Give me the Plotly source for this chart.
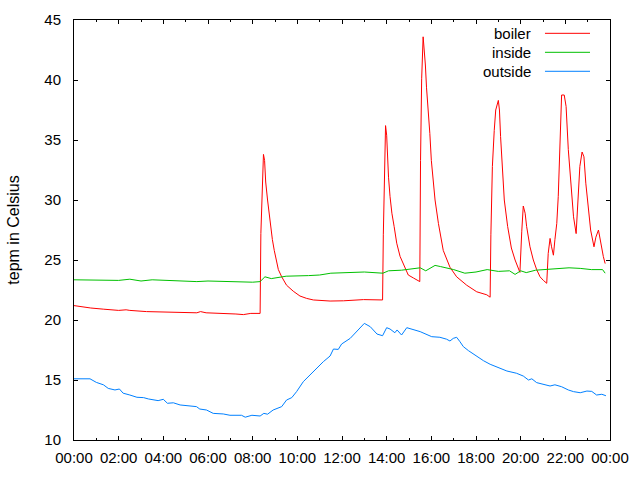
import plotly.graph_objects as go

DAY = "2020-01-01 "
END = "2020-01-02 00:00"

boiler_t = ["00:00","00:20","00:45","01:20","02:00","02:20","02:30","03:15","05:30","05:40","05:55","07:15","07:35","07:55","08:20",
            "08:22","08:29","08:32","08:35","08:40","08:44","08:49","08:53","08:58","09:02","09:09","09:18","09:31","09:49","10:07",
            "10:25","10:43","11:28","12:04","12:58","13:49","13:51","13:54","13:56","13:57","14:00","14:02","14:05","14:09","14:14",
            "14:20","14:27","14:36","14:45","14:58","15:12","15:29","15:31","15:34","15:38","15:41","15:44","15:47","15:52","15:56",
            "16:00","16:05","16:10","16:19","16:32","16:50","17:08","17:35","18:02","18:29","18:38","18:40","18:44","18:49","18:53",
            "19:00","19:03","19:06","19:11","19:16","19:25","19:35","19:45","19:55","19:58","20:03","20:07","20:12","20:16","20:25",
            "20:34","20:43","20:52","21:01","21:10","21:14","21:19","21:23","21:28","21:32","21:37","21:41","21:46","21:50","21:57",
            "22:02","22:08","22:16","22:22","22:29","22:33","22:39","22:45","22:50","22:55","23:02","23:08","23:17","23:22","23:29",
            "23:36","23:42","23:47"]
boiler_v = [21.2,21.1,21.0,20.9,20.8,20.85,20.8,20.7,20.6,20.7,20.6,20.5,20.45,20.55,20.55,
            27.2,33.8,33.3,31.5,30.0,28.9,27.5,26.7,25.8,25.1,24.2,23.6,22.9,22.4,22.0,
            21.8,21.67,21.58,21.6,21.7,21.67,27.1,30.7,34.3,36.2,35.4,33.3,31.9,30.3,28.9,
            27.8,26.4,25.3,24.6,23.75,23.5,23.2,33.3,40.1,43.6,42.6,41.25,39.4,37.5,35.55,
            33.3,31.7,30.0,28.05,25.8,24.4,23.6,22.9,22.35,22.1,21.9,27.1,32.8,35.8,37.5,
            38.3,37.5,35.3,32.5,30.0,27.8,26.0,25.0,24.2,23.97,27.4,29.5,28.9,27.8,26.1,
            25.0,24.2,23.6,23.3,23.06,25.55,26.8,26.1,25.4,26.7,28.05,30.3,35.0,38.75,38.75,
            37.8,34.2,31.1,28.6,27.2,29.7,32.8,34.0,33.6,31.4,29.4,27.5,26.1,26.9,27.5,
            26.25,25.3,24.7]

inside_t = ["00:00","01:00","02:00","02:30","03:00","03:30","04:00","05:00","05:30","06:00","07:00","08:00","08:20","08:33",
            "08:50","09:30","10:30","11:00","11:30","12:30","13:00","13:50","14:05","14:40","15:30","15:45","16:10","16:25",
            "17:00","17:30","18:00","18:30","19:00","19:30","19:45","20:00","20:15","20:40","21:10","21:45","22:10","22:40",
            "23:10","23:40","23:47"]
inside_v = [23.35,23.35,23.3,23.4,23.25,23.35,23.3,23.25,23.2,23.25,23.2,23.15,23.2,23.6,
            23.45,23.65,23.7,23.75,23.9,23.95,24.0,23.9,24.1,24.15,24.35,24.1,24.55,24.45,
            24.2,23.9,24.0,24.2,24.05,24.1,23.8,24.1,23.95,24.15,24.2,24.25,24.35,24.3,
            24.2,24.2,23.9]

outside_t = ["00:00","00:43","01:00","01:19","01:32","01:50","02:02","02:12","02:30","02:49","03:07","03:20","03:46","04:00",
             "04:11","04:27","04:45","05:29","05:38","05:56","06:14","06:41","06:59","07:30","07:40","07:58","08:20","08:30",
             "08:40","08:55","09:18","09:31","09:45","09:58","10:16","10:34","10:52","11:10","11:28","11:37","11:50","11:59",
             "12:22","12:40","13:00","13:16","13:34","13:49","14:00","14:09","14:22","14:28","14:40","14:54","15:12","15:30",
             "16:01","16:23","16:41","16:50","16:59","17:08","17:17","17:26","17:40","17:53","18:06","18:20","18:38","19:00",
             "19:23","19:49","20:07","20:21","20:30","20:43","21:01","21:19","21:32","21:50","22:08","22:22","22:40","22:58",
             "23:11","23:24","23:38","23:49"]
outside_v = [15.1,15.1,14.8,14.6,14.3,14.17,14.25,13.9,13.75,13.56,13.53,13.42,13.28,13.39,
             13.06,13.1,12.92,12.78,12.58,12.5,12.22,12.17,12.06,12.06,11.9,12.06,12.0,12.22,
             12.15,12.5,12.78,13.33,13.53,14.03,14.86,15.42,15.97,16.53,17.0,17.58,17.55,18.0,
             18.47,19.03,19.72,19.44,18.83,18.69,19.36,19.25,18.94,19.17,18.75,19.36,19.22,19.03,
             18.61,18.56,18.4,18.25,18.47,18.56,18.19,17.78,17.44,17.17,16.89,16.61,16.31,16.03,
             15.75,15.56,15.33,15.0,15.1,14.78,14.67,14.5,14.6,14.44,14.17,14.03,13.94,14.08,
             14.05,13.75,13.81,13.69]

series = [("boiler", boiler_t, boiler_v, "#ff0000"),
          ("inside", inside_t, inside_v, "#00c000"),
          ("outside", outside_t, outside_v, "#0080ff")]

FONT = "Liberation Sans, Arial, sans-serif"
FS = 15
fig = go.Figure()
for name, t, v, c in series:
    fig.add_trace(go.Scatter(x=[DAY + s for s in t], y=v, mode="lines", name=name,
                             line=dict(color=c, width=1), showlegend=False))

# gnuplot-style key: text right-aligned, sample line to the right
key_rows = [0.9683, 0.9231, 0.8779]
for (name, _, _, c), yy in zip(series, key_rows):
    fig.add_annotation(xref="paper", yref="paper", x=0.856, y=yy, text=name, showarrow=False,
                       xanchor="right", yanchor="middle", font=dict(family=FONT, size=FS, color="#000000"))
    fig.add_shape(type="line", xref="paper", yref="paper", x0=0.8787, x1=0.9627, y0=yy, y1=yy,
                  line=dict(color=c, width=1))

fig.update_layout(
    width=640, height=480,
    margin=dict(l=74, r=30, t=20, b=40),
    paper_bgcolor="white", plot_bgcolor="white",
    font=dict(family=FONT, size=FS, color="#000000"),
    xaxis=dict(type="date", range=[DAY + "00:00", END], tickformat="%H:%M", dtick=7200000,
               tick0=DAY + "00:00", showgrid=False, zeroline=False, showline=True, linecolor="black",
               linewidth=1, mirror="ticks", ticks="inside", ticklen=4, tickcolor="black",
               ticklabelstandoff=4,
               minor=dict(ticks="inside", ticklen=2, dtick=3600000, tickcolor="black", showgrid=False)),
    yaxis=dict(range=[10, 45], dtick=5, showgrid=False, zeroline=False, showline=True, linecolor="black",
               linewidth=1, mirror="ticks", ticks="inside", ticklen=4, tickcolor="black",
               ticklabelstandoff=9,
               title=dict(text="tepm in Celsius", standoff=20, font=dict(size=16))),
)

fig.write_html("out.html")
